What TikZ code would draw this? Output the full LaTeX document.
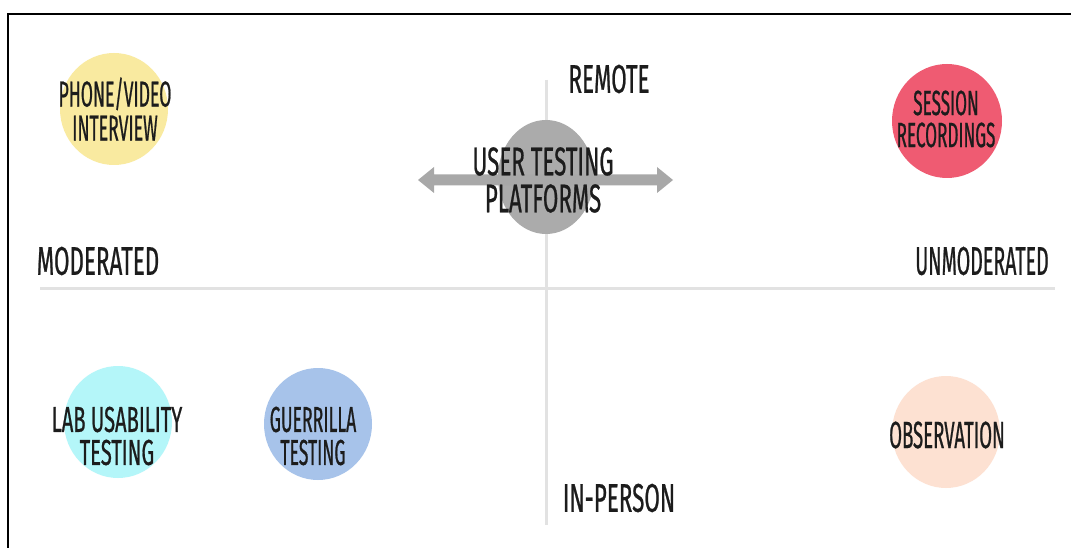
\documentclass[tikz,border=0pt]{standalone}
\usepackage{fontspec}
\usetikzlibrary{shapes.geometric}
\newfontfamily\hand{Fira Sans}[FakeStretch=0.49,FakeBold=0.6]
\newfontfamily\handw{Fira Sans}[FakeStretch=0.56,FakeBold=0.6]
\definecolor{ink}{HTML}{1C1C1C}
\definecolor{axisgray}{HTML}{E2E2E2}
\definecolor{cyellow}{HTML}{F9EAA0}
\definecolor{cpink}{HTML}{EF5B72}
\definecolor{cgray}{HTML}{ABABAB}
\definecolor{ccyan}{HTML}{B4F6F9}
\definecolor{cblue}{HTML}{A7C3EA}
\definecolor{cpeach}{HTML}{FDE1D2}
\definecolor{arrowgray}{HTML}{A8A8A8}
\begin{document}
\begin{tikzpicture}[x=1pt,y=-1pt,
  blob/.style={ellipse,minimum width=108pt,minimum height=112pt,inner sep=0pt},
  blobtext/.style={text=ink,font=\hand\fontsize{36}{33}\selectfont,align=center,inner sep=0pt},
  axislabel/.style={text=ink,font=\handw\fontsize{40}{40}\selectfont,inner sep=0pt},
  axisline/.style={draw=axisgray,line width=3pt}]
\useasboundingbox (0,0) rectangle (1071,548);
\fill[white] (0,0) rectangle (1071,548);
% frame
\coordinate (fbl) at (7.5,549);
\coordinate (ftl) at (7.5,14.5);
\coordinate (ftr) at (1072,14.5);
\draw[black,line width=2pt] (fbl) -- (ftl) -- (ftr);
% axes
\coordinate (vtop) at (546.5,80);
\coordinate (vbot) at (546.5,525);
\coordinate (hleft) at (40,288.5);
\coordinate (hright) at (1055,288.5);
\draw[axisline] (vtop) -- (vbot);
\draw[axisline] (hleft) -- (hright);
% circles
\node[blob,fill=cyellow] (phone) at (114,109) {};
\node[blob,fill=cpink,minimum width=110pt,minimum height=114pt] (session) at (947,121) {};
\node[blob,fill=cgray,minimum width=96pt,minimum height=114pt] (utp) at (546,177) {};
\node[blob,fill=ccyan] (lab) at (118,422) {};
\node[blob,fill=cblue] (guer) at (318,424) {};
\node[blob,fill=cpeach] (obs) at (946,432) {};
% double arrow
\fill[arrowgray] (418,180) -- (434,167) -- (434,174.5) -- (657,174.5) -- (657,167)
  -- (673,180) -- (657,193) -- (657,185.5) -- (434,185.5) -- (434,193) -- cycle;
% texts
\node[blobtext,font=\hand\fontsize{36}{34}\selectfont] (tphone) at (115,109) {PHONE/VIDEO\\INTERVIEW};
\node[blobtext,font=\hand\fontsize{35}{32}\selectfont] (tsession) at (946,119) {SESSION\\RECORDINGS};
\node[blobtext,font=\handw\fontsize{40}{37}\selectfont] (tutp) at (543,180) {USER TESTING\\PLATFORMS};
\node[blobtext,font=\handw\fontsize{36}{33}\selectfont] (tlab) at (117,436) {LAB USABILITY\\TESTING};
\node[blobtext] (tguer) at (313,436) {GUERRILLA\\TESTING};
\node[blobtext,font=\hand\fontsize{38}{38}\selectfont] (tobs) at (947,435) {OBSERVATION};
\node[axislabel] (remote) at (609,79) {REMOTE};
\node[axislabel] (moderated) at (98,261) {MODERATED};
\node[axislabel,font=\hand\fontsize{40}{40}\selectfont] (unmod) at (982,261) {UNMODERATED};
\node[axislabel] (inperson) at (619,498) {IN-PERSON};
\end{tikzpicture}
\end{document}
